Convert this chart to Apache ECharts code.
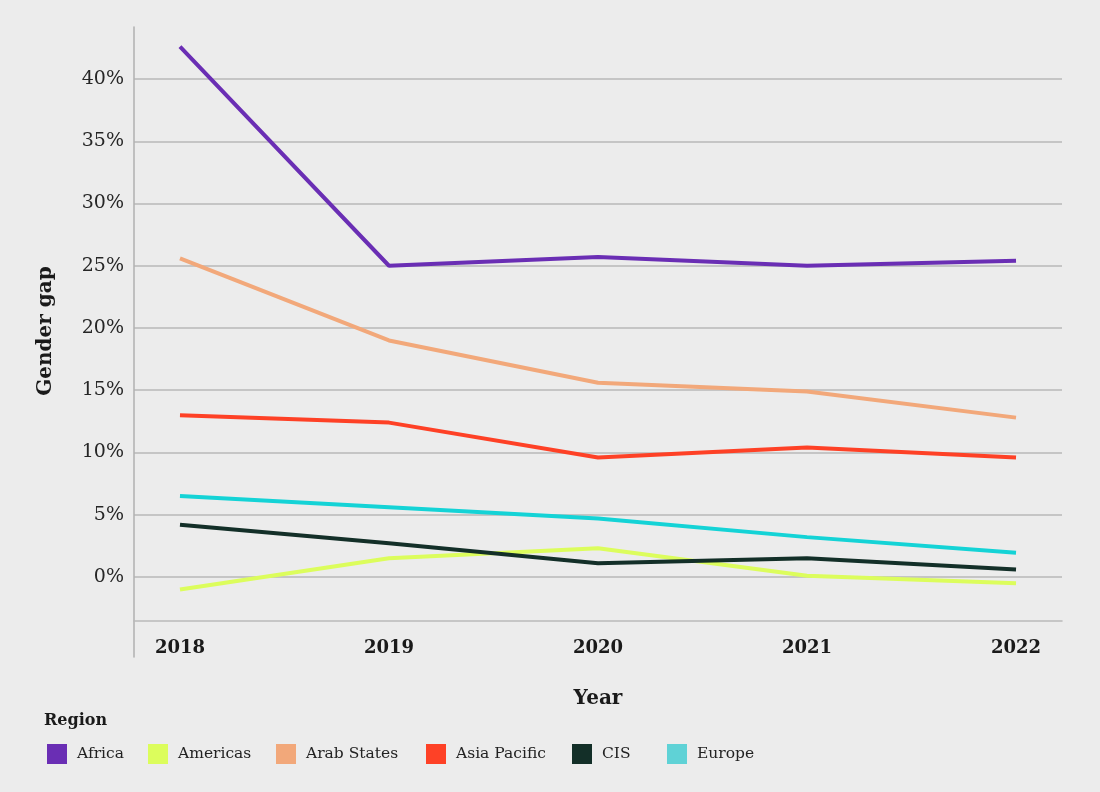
<!DOCTYPE html>
<html>
<head>
<meta charset="utf-8">
<script src="https://cdn.jsdelivr.net/npm/echarts@6/dist/echarts.min.js"></script>
<style>
html,body{margin:0;padding:0;background:#ececec;}
#chart{width:1100px;height:792px;}
</style>
</head>
<body>
<div id="chart"></div>
<script>
const years = [2018, 2019, 2020, 2021, 2022];
const yTicks = [0, 5, 10, 15, 20, 25, 30, 35, 40];
const regions = ['Africa', 'Americas', 'Arab States', 'Asia Pacific', 'CIS', 'Europe'];
const africa = [42.6, 25.0, 25.7, 25.0, 25.4];
const americas = [-1.0, 1.5, 2.3, 0.1, -0.5];
const arabStates = [25.6, 19.0, 15.6, 14.9, 12.8];
const asiaPacific = [13.0, 12.4, 9.6, 10.4, 9.6];
const cis = [4.2, 2.7, 1.1, 1.5, 0.6];
const europe = [6.5, 5.6, 4.7, 3.2, 1.95];

const seriesValues = [africa, americas, arabStates, asiaPacific, cis, europe];
const lineColors = ['#6a2eb4', '#dcfd5c', '#f2a87a', '#fe4126', '#132f28', '#14d3d6'];
const legendColors = ['#6a2eb4', '#dcfd5c', '#f2a87a', '#fe4126', '#132f28', '#5fd2d6'];
const legendLefts = [42, 143, 271, 421, 567, 662];

const FONT = 'DejaVu Serif';
const chart = echarts.init(document.getElementById('chart'));
chart.setOption({
  backgroundColor: '#ececec',
  textStyle: { fontFamily: FONT },
  animation: false,
  grid: { left: 134, right: 38, top: 27, bottom: 135 },
  xAxis: {
    type: 'value',
    min: 2017.78,
    max: 2022.22,
    offset: -36,
    name: 'Year',
    nameLocation: 'middle',
    nameGap: 68,
    nameTextStyle: { fontFamily: FONT, fontSize: 20, fontWeight: 'bold', color: '#1a1a1a' },
    axisLine: { show: true, onZero: false, lineStyle: { color: '#b9b9b9', width: 1.5 } },
    axisTick: { show: false, customValues: years },
    axisLabel: {
      customValues: years,
      margin: 18,
      formatter: v => String(v),
      fontFamily: FONT, fontSize: 18, fontWeight: 'bold', color: '#1a1a1a'
    },
    splitLine: { show: false }
  },
  yAxis: {
    type: 'value',
    min: -6.43,
    max: 44.18,
    axisLine: { show: true, onZero: false, lineStyle: { color: '#b0b0b0', width: 1.5 } },
    axisTick: { show: false, customValues: yTicks },
    axisLabel: {
      customValues: yTicks,
      margin: 10,
      padding: [3, 0, 0, 0],
      formatter: v => v + '%',
      fontFamily: FONT, fontSize: 19, color: '#262626'
    },
    splitLine: { show: true, lineStyle: { color: '#b9b9b9', width: 1.5 } }
  },
  legend: regions.map((r, i) => ({
    left: legendLefts[i], top: 739,
    itemWidth: 20, itemHeight: 20,
    icon: 'rect',
    textStyle: { fontFamily: FONT, fontSize: 15.5, color: '#222', padding: [0, 0, 0, 5] },
    data: [{ name: r, itemStyle: { color: legendColors[i] } }]
  })),
  graphic: [
    {
      type: 'text', left: 44, top: 713,
      style: { text: 'Region', font: 'bold 16px "DejaVu Serif"', fill: '#1a1a1a' }
    },
    {
      type: 'text', x: 46, y: 331, rotation: Math.PI / 2,
      style: { text: 'Gender gap', font: 'bold 20px "DejaVu Serif"', fill: '#1a1a1a', align: 'center', verticalAlign: 'middle' }
    }
  ],
  series: regions.map((r, i) => ({
    name: r,
    type: 'line',
    symbol: 'none',
    color: lineColors[i],
    lineStyle: { width: 4, color: lineColors[i] },
    data: years.map((y, j) => [y, seriesValues[i][j]])
  }))
});
</script>
</body>
</html>
